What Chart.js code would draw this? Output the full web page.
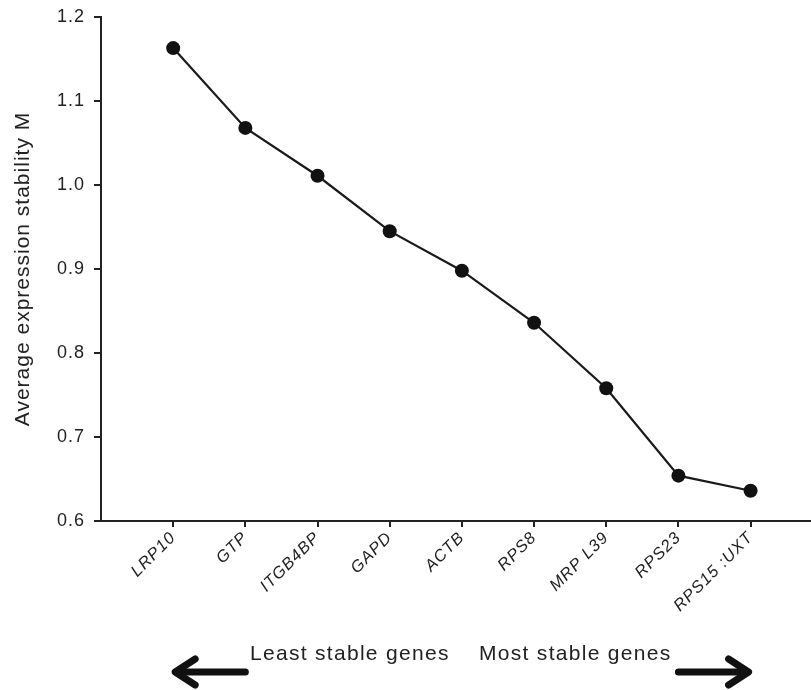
<!DOCTYPE html>
<html><head><meta charset="utf-8">
<script src="https://cdn.jsdelivr.net/npm/chart.js@4/dist/chart.umd.min.js"></script>
<style>html,body{margin:0;padding:0;background:#fff}canvas{display:block}</style>
</head><body>
<canvas id="c" width="811" height="690"></canvas>
<script>
const genes = ['LRP10','GTP','ITGB4BP','GAPD','ACTB','RPS8','MRP L39','RPS23','RPS15 :UXT'];
const stabilityM = [1.163, 1.068, 1.011, 0.945, 0.898, 0.836, 0.758, 0.654, 0.636];
const yTicks = [0.6, 0.7, 0.8, 0.9, 1.0, 1.1, 1.2];
const yTitle = 'Average expression stability M';
const leftNote = 'Least stable genes';
const rightNote = 'Most stable genes';

const FONT = "'Liberation Sans', Arial, sans-serif";
const INK = '#222';

const spacing = {
  id: 'spacing',
  beforeUpdate(c) { c.ctx.letterSpacing = '1px'; },
  beforeLayout(c) { c.ctx.letterSpacing = '1px'; },
  beforeDraw(c) { c.ctx.letterSpacing = '1px'; }
};

const notes = {
  id: 'notes',
  afterDraw(c) {
    const ctx = c.ctx, xs = c.scales.x;
    ctx.save();
    ctx.letterSpacing = '1.3px';
    ctx.fillStyle = INK;
    ctx.font = '21px ' + FONT;
    ctx.textBaseline = 'alphabetic';
    ctx.textAlign = 'left';
    ctx.fillText(leftNote, 250, 660);
    ctx.fillText(rightNote, 479, 660);
    const ay = 672;
    function arrow(x0, x1) {
      const dir = Math.sign(x1 - x0);
      ctx.strokeStyle = '#111';
      ctx.lineWidth = 7;
      ctx.lineCap = 'round';
      ctx.lineJoin = 'round';
      ctx.beginPath();
      ctx.moveTo(x0, ay); ctx.lineTo(x1 - dir * 2, ay);
      ctx.stroke();
      ctx.beginPath();
      ctx.moveTo(x1 - dir * 20, ay - 13);
      ctx.lineTo(x1, ay);
      ctx.lineTo(x1 - dir * 20, ay + 13);
      ctx.stroke();
    }
    arrow(xs.getPixelForValue(1), xs.getPixelForValue(0) + 2);
    arrow(xs.getPixelForValue(7), xs.getPixelForValue(8) - 2);
    ctx.restore();
  }
};

new Chart(document.getElementById('c'), {
  type: 'line',
  data: {
    datasets: [{
      data: stabilityM.map((v, i) => ({ x: i, y: v })),
      borderColor: '#1a1a1a',
      borderWidth: 2.2,
      pointRadius: 7,
      pointHoverRadius: 7,
      pointBackgroundColor: '#111',
      pointBorderColor: '#111',
      pointBorderWidth: 0,
      tension: 0,
      fill: false,
      clip: false
    }]
  },
  options: {
    responsive: false,
    devicePixelRatio: 1,
    animation: false,
    events: [],
    layout: { autoPadding: false, padding: { top: 17, right: 0, left: 0, bottom: 0 } },
    plugins: { legend: { display: false }, tooltip: { enabled: false } },
    scales: {
      x: {
        type: 'linear',
        min: -1,
        max: 8.837,
        afterBuildTicks(s) { s.ticks = genes.map((_, i) => ({ value: i })); },
        afterFit(s) { s.height = 169; s.paddingLeft = 0; s.paddingRight = 0; },
        border: { color: INK, width: 2 },
        grid: { drawOnChartArea: false, drawTicks: true, tickLength: 6, color: INK, lineWidth: 2 },
        ticks: {
          autoSkip: false,
          minRotation: 45,
          maxRotation: 45,
          padding: 1,
          color: INK,
          font: { family: FONT, size: 16.5, style: 'italic' },
          callback: (v) => genes[v]
        }
      },
      y: {
        min: 0.6,
        max: 1.2,
        afterBuildTicks(s) { s.ticks = yTicks.map(v => ({ value: v })); },
        afterFit(s) { s.width = 101; s.paddingTop = 0; s.paddingBottom = 0; },
        border: { color: INK, width: 2 },
        grid: { drawOnChartArea: false, drawTicks: true, tickLength: 7, color: INK, lineWidth: 2 },
        ticks: {
          padding: 9,
          color: INK,
          font: { family: FONT, size: 18 },
          callback: (v) => v.toFixed(1)
        },
        title: {
          display: true,
          text: yTitle,
          color: INK,
          font: { family: FONT, size: 21 },
          padding: { top: 11, bottom: 0 }
        }
      }
    }
  },
  plugins: [spacing, notes]
});
</script>
</body></html>
